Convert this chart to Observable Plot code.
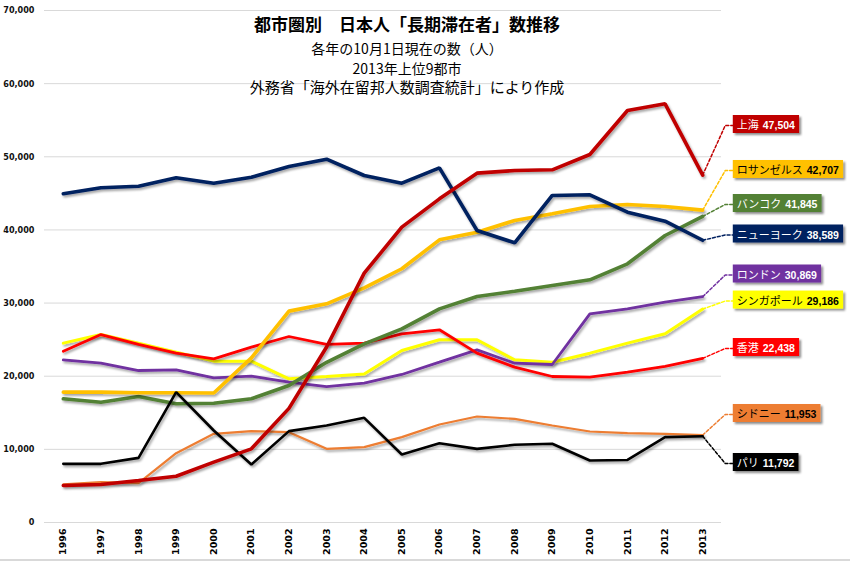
<!DOCTYPE html>
<html><head><meta charset="utf-8">
<script src="https://cdn.jsdelivr.net/npm/d3@7"></script>
<script src="https://cdn.jsdelivr.net/npm/@observablehq/plot@0.6"></script>
<style>
body{margin:0;background:#fff;}
#chart{position:relative;width:850px;height:561px;overflow:hidden;background:#fff;}
#chart svg{display:block;}
#bottomline{position:absolute;left:0;top:559px;width:850px;height:2px;background:#d9d9d9;}
</style></head><body><div id="chart"><div id="bottomline"></div></div>
<script>
// ---- data ----
const years = [1996,1997,1998,1999,2000,2001,2002,2003,2004,2005,2006,2007,2008,2009,2010,2011,2012,2013];
const cities = ["上海","ロサンゼルス","バンコク","ニューヨーク","ロンドン","シンガポール","香港","シドニー","パリ"];
const shanghai  = [5060,5200,5740,6330,8250,10070,15600,24000,34090,40380,44250,47760,48130,48220,50310,56330,57240,47504];
const losAngeles= [17820,17820,17730,17730,17700,22500,28900,29900,32090,34690,38650,39690,41290,42200,43200,43480,43200,42707];
const bangkok   = [16910,16450,17230,16230,16310,16910,18730,21900,24430,26480,29210,30900,31620,32400,33180,35370,39240,41845];
const newYork   = [44940,45760,45980,47130,46390,47210,48670,49670,47440,46390,48490,39920,38240,44710,44800,42430,41200,38589];
const london    = [22240,21780,20780,20870,19780,20000,19180,18590,19050,20240,21920,23610,21780,21600,28530,29210,30120,30869];
const singapore = [24520,25700,24520,23290,22060,22060,19640,19960,20290,23520,24980,24980,22240,21920,23150,24520,25800,29186];
const hongKong  = [23420,25700,24340,23150,22380,23970,25430,24340,24520,25800,26350,23150,21240,19960,19870,20550,21330,22438];
const sydney    = [5200,5510,5370,9480,12120,12490,12350,10070,10300,11670,13400,14490,14170,13260,12440,12210,12120,11953];
const paris     = [8020,8020,8840,17820,12580,7930,12490,13260,14310,9300,10840,10070,10620,10760,8480,8550,11670,11792];
const seriesValues = [shanghai,losAngeles,bangkok,newYork,london,singapore,hongKong,sydney,paris];
// value level at which each end label sits (annotation layout, in data units)
const labelAt = [54280,48130,43480,39310,33840,30280,23790,14770,8070];
const yTicks = [0,10000,20000,30000,40000,50000,60000,70000];
const titleLines = ["都市圏別　日本人「長期滞在者」数推移","各年の10月1日現在の数（人）","2013年上位9都市","外務省「海外在留邦人数調査統計」により作成"];

// ---- styles ----
const style = {
  "上海":        {color:"#c00000", text:"#ffffff", width:3.6},
  "ロサンゼルス":{color:"#ffc000", text:"#000000", width:3.6},
  "バンコク":    {color:"#538135", text:"#ffffff", width:3.6},
  "ニューヨーク":{color:"#002060", text:"#ffffff", width:3.6},
  "ロンドン":    {color:"#7030a0", text:"#ffffff", width:2.8},
  "シンガポール":{color:"#ffff00", text:"#000000", width:3},
  "香港":        {color:"#ff0000", text:"#ffffff", width:2.8},
  "シドニー":    {color:"#ed7d31", text:"#000000", width:2.2},
  "パリ":        {color:"#000000", text:"#ffffff", width:2.6}
};
const drawOrder = ["シドニー","シンガポール","ロンドン","香港","バンコク","ロサンゼルス","ニューヨーク","パリ","上海"];

const rows = [];
cities.forEach((c,i)=>years.forEach((y,j)=>rows.push({city:c, year:y, value:seriesValues[i][j]})));
const labels = cities.map((c,i)=>({city:c, value:seriesValues[i][years.length-1], at:labelAt[i], textColor:style[c].text}));
const lastYear = years[years.length-1];
const connectors = [];
labels.forEach(l=>{
  connectors.push({city:l.city, x:lastYear, y:l.value});
  connectors.push({city:l.city, x:lastYear+0.6, y:l.at});
  connectors.push({city:l.city, x:lastYear+0.8, y:l.at});
});

const fmt = d3.format(",");
const marks = [
  Plot.gridY(yTicks, {stroke:"#d9d9d9", strokeOpacity:1, strokeWidth:1}),
  Plot.axisY({ticks:yTicks, tickFormat:fmt, tickSize:0, tickPadding:10, fontFamily:"DejaVu Sans Condensed", fontWeight:"bold", fontSize:9, fill:"#111", label:null}),
  Plot.axisX({ticks:years, tickFormat:d=>String(d), tickRotate:-90, tickSize:0, tickPadding:6, fontFamily:"DejaVu Sans", fontWeight:"bold", fontSize:9.5, fill:"#000", label:null})
];
for (const c of drawOrder) {
  marks.push(Plot.line(connectors.filter(d=>d.city===c), {x:"x", y:"y", stroke:style[c].color, strokeWidth:1.5, strokeDasharray:"3,2"}));
}
for (const c of drawOrder) {
  marks.push(Plot.line(rows.filter(d=>d.city===c), {x:"year", y:"value", stroke:style[c].color, strokeWidth:style[c].width, strokeLinejoin:"miter", ariaDescription:"series"}));
}
marks.push(Plot.text(labels, {x:()=>lastYear+0.8, y:"at", text:"city", fill:"textColor", dx:4, textAnchor:"start", lineAnchor:"middle", fontFamily:"Noto Sans CJK JP", fontSize:11, ariaDescription:"city labels"}));
marks.push(Plot.text([titleLines[0]], {frameAnchor:"top", lineAnchor:"middle", text:d=>d, dx:24, dy:15, fontSize:17, fontWeight:"bold", fill:"#000", fontFamily:"Noto Sans CJK JP"}));
[[1,39,14],[2,59,14],[3,78,15]].forEach(([k,dy,fs])=>{
  marks.push(Plot.text([titleLines[k]], {frameAnchor:"top", lineAnchor:"middle", text:d=>d, dx:24, dy, fontSize:fs, fill:"#000", fontFamily:"Noto Sans CJK JP"}));
});

const chart = Plot.plot({
  width:850, height:561,
  marginTop:10, marginBottom:39, marginLeft:44, marginRight:129,
  x:{type:"linear", domain:[1995.5, 2013.5]},
  y:{domain:[0,70000]},
  color:{type:"identity"},
  style:{fontFamily:"'Noto Sans CJK JP', sans-serif", background:"#fff"},
  marks
});
document.getElementById("chart").prepend(chart);

// shadow filters
const ns = "http://www.w3.org/2000/svg";
const defs = document.createElementNS(ns, "defs");
defs.innerHTML = '<filter id="lineShadow" filterUnits="userSpaceOnUse" x="0" y="0" width="850" height="561"><feDropShadow dx="1.5" dy="2" stdDeviation="0.9" flood-color="#000" flood-opacity="0.35"/></filter>' +
  '<filter id="boxShadow" filterUnits="userSpaceOnUse" x="0" y="0" width="850" height="561"><feDropShadow dx="2" dy="2" stdDeviation="1.2" flood-color="#000" flood-opacity="0.45"/></filter>';
chart.insertBefore(defs, chart.firstChild);
chart.querySelectorAll('g[aria-description="series"]').forEach(g=>g.setAttribute("filter","url(#lineShadow)"));

// label boxes with bold numbers
const labelG = chart.querySelector('g[aria-description="city labels"]');
const boxG = document.createElementNS(ns, "g");
boxG.setAttribute("filter", "url(#boxShadow)");
if (labelG.getAttribute("transform")) boxG.setAttribute("transform", labelG.getAttribute("transform"));
labelG.parentNode.insertBefore(boxG, labelG);
labelG.querySelectorAll("text").forEach((t,i)=>{
  const l = labels[i];
  const ts = document.createElementNS(ns, "tspan");
  ts.setAttribute("dx", "4");
  ts.setAttribute("font-family", "Liberation Sans");
  ts.setAttribute("font-weight", "bold");
  ts.setAttribute("font-size", "10.5");
  ts.textContent = fmt(l.value);
  t.appendChild(ts);
  const bb = t.getBBox();
  const r = document.createElementNS(ns, "rect");
  r.setAttribute("x", bb.x - 4);
  r.setAttribute("y", bb.y + bb.height/2 - 9);
  r.setAttribute("width", bb.width + 8);
  r.setAttribute("height", 18);
  r.setAttribute("fill", style[l.city].color);
  if (t.getAttribute("transform")) r.setAttribute("transform", t.getAttribute("transform"));
  boxG.appendChild(r);
});
</script></body></html>
